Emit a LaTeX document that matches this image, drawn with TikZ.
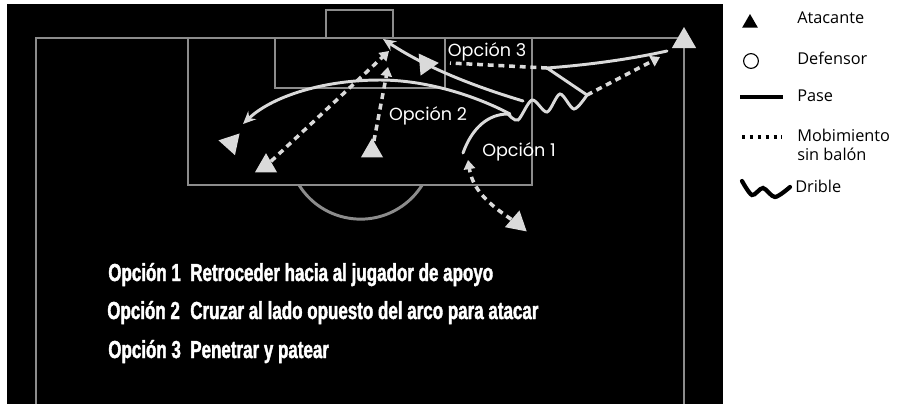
\documentclass[tikz,border=0pt]{standalone}
\usepackage{fontspec}
\usepackage{xcolor}
\definecolor{pitchgray}{RGB}{140,140,140}
\definecolor{chalk}{RGB}{218,218,218}
\newfontfamily\keyfont{Open Sans}
\newfontfamily\optfont{Poppins}
\newfontfamily\listfont[FakeStretch=0.69, FakeBold=1.6]{Liberation Sans Bold}
\usepackage{tikz}
\usetikzlibrary{shapes.geometric, arrows.meta, positioning}

\begin{document}
\begin{tikzpicture}[x=0.025cm, y=-0.025cm,
  pitch/.style={draw=pitchgray, line width=2.1pt},
  attacker/.style={regular polygon, regular polygon sides=3, fill=chalk,
                   inner sep=0pt, minimum size=0.64cm},
  pass/.style={draw=chalk, line width=2.1pt, line cap=round},
  run/.style={draw=chalk, line width=2.5pt, dash pattern=on 4.2pt off 3.4pt},
  passtip/.style={-{Stealth[length=9pt, width=8pt]}},
  runtip/.style={-{Triangle[length=6.5pt, width=8pt]}},
  optlabel/.style={text=white, inner sep=0pt, font=\optfont\fontsize{12.5}{14}\selectfont},
  listlabel/.style={text=white, anchor=base west, inner sep=0pt,
                    font=\listfont\fontsize{17.5}{19}\selectfont},
  keytext/.style={anchor=west, align=left, inner sep=0pt,
                  font=\keyfont\fontsize{11.6}{13.5}\selectfont}
]
\useasboundingbox (0,0) rectangle (898,404);
\fill[white] (0,0) rectangle (898,404);
\fill[black] (7,4) rectangle (723,404);

% Pitch
\draw[pitch] (36,404) -- (36,38) -- (684,38) -- (684,404);
\draw[pitch] (188,38) rectangle (532,185);
\draw[pitch] (275,38) rectangle (445,88);
\draw[pitch] (326,38) -- (326,10) -- (393,10) -- (393,38);
\draw[pitch] (299,185) arc[start angle=148, end angle=32, radius=72.6];

% Attackers
\node[attacker, minimum size=0.7cm] (wing) at (684,41) {};
\node[attacker] (mid)  at (372,151) {};
\node[attacker] (near) at (266,166) {};
\node[attacker, rotate=78]  (far)     at (231,143) {};
\node[attacker, rotate=-85] (striker) at (426,64) {};
\node[attacker, rotate=-11] (support) at (517,223) {};

% Points on the ball's path
\coordinate (cornerball) at (667,51);
\coordinate (cutin)      at (547,68);
\coordinate (drbend)     at (587,95);
\coordinate (drstop)     at (508,114);
\coordinate (shotfrom)   at (523,101);
\coordinate (goalpost)   at (383,39);
\coordinate (crossfrom)  at (510,114);
\coordinate (farpost)    at (243,124);
\coordinate (backto)     at (463,153);
\coordinate (runend)     at (450,63);
\coordinate (nearrun)    at (389,51);
\coordinate (midrun)     at (388,67);
\coordinate (wingrun)    at (660,57);
\coordinate (supportrun) at (468,160);

% Passes and dribble
\draw[pass] (cornerball) .. controls (640,57) and (600,64) .. (cutin) -- (drbend);
\draw[pass] plot[smooth] coordinates {(587,95) (574,109) (560,94) (547,112) (532,100) (518,120) (508,114)};
\draw[pass, passtip] (shotfrom) .. controls (480,88) and (430,70) .. (goalpost);
\draw[pass, passtip] (crossfrom) .. controls (480,98) and (430,80) .. (380,80)
                                 .. controls (320,80) and (270,98) .. (farpost);
\draw[pass] (drstop) .. controls (488,114) and (472,128) .. (backto);

% Runs without the ball
\draw[run] (cutin) -- (runend);
\draw[run, runtip] (drbend) -- (wingrun);
\draw[run, runtip] (near) -- (nearrun);
\draw[run, runtip] (mid) -- (midrun);
\draw[run, runtip] (support) .. controls (482,200) and (472,185) .. (supportrun);

% Option labels
\node[optlabel] (opt3) at (487,52)  {Opción 3};
\node[optlabel] (opt2) at (428,116) {Opción 2};
\node[optlabel] (opt1) at (519,152) {Opción 1};

% Options list
\node[listlabel] (row1) at (108,281) {Opción 1};
\node[listlabel] (row2) at (107,319) {Opción 2};
\node[listlabel] (row3) at (108,358) {Opción 3};
\node[listlabel] (text1) at (190,281) {Retroceder hacia al jugador de apoyo};
\node[listlabel] (text2) at (190,319) {Cruzar al lado opuesto del arco para atacar};
\node[listlabel] (text3) at (190,358) {Penetrar y patear};

% Legend
\node[regular polygon, regular polygon sides=3, fill=black, inner sep=0pt,
      minimum size=0.45cm] (keyatk) at (750,23) {};
\node[keytext] (keyatktext) at (797,18) {Atacante};
\node[circle, draw=black, line width=0.8pt, minimum size=0.37cm, inner sep=0pt] (keydef) at (751,61) {};
\node[keytext] (keydeftext) at (797,58) {Defensor};
\coordinate (keypassL) at (740,97);
\coordinate (keypassR) at (783,97);
\draw[line width=2.5pt] (keypassL) -- (keypassR);
\node[keytext] (keypasstext) at (797,96) {Pase};
\coordinate (keyrunL) at (742,137);
\coordinate (keyrunR) at (782,137);
\draw[line width=2.4pt, dash pattern=on 2.4pt off 3.2pt] (keyrunL) -- (keyrunR);
\node[keytext] (keyruntext) at (797,145) {Mobimiento\\sin balón};
\draw[line width=3pt, line cap=round] plot[smooth] coordinates {(742,181) (752,195) (763,188) (775,197) (790,187)};
\node[keytext] (keydribtext) at (795,186) {Drible};

\end{tikzpicture}
\end{document}
